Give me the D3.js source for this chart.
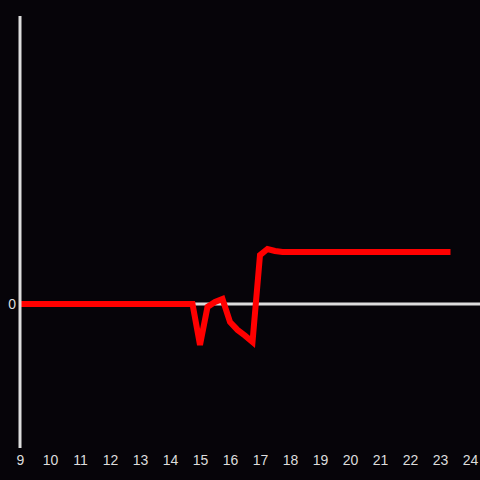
<!DOCTYPE html>
<html>
<head>
<meta charset="utf-8">
<script src="https://cdn.jsdelivr.net/npm/d3@7"></script>
<style>
  html, body { margin: 0; padding: 0; background: #060409; }
  svg { display: block; }
  .tick text { font-family: "Liberation Sans", Arial, sans-serif; font-size: 14px; fill: #ddd; }
</style>
</head>
<body>
<div id="chart"></div>
<script>
// hour of day and value
var hours = [9, 14.75, 15, 15.25, 15.5, 15.75, 16, 16.25, 16.5, 16.75, 17, 17.25, 17.5, 17.75, 23.35];
var values = [0, 0, -28.5, -2, 1.4, 3.5, -12.5, -18, -22, -26.4, 34, 38.2, 36.8, 36.1, 36.1];
var xTicks = [9, 10, 11, 12, 13, 14, 15, 16, 17, 18, 19, 20, 21, 22, 23, 24];
var yTicks = [0];

var width = 480, height = 480;

var x = d3.scaleLinear().domain([9, 24]).range([20, 470]);
var y = d3.scaleLinear().domain([-100, 200]).range([448, 16]);

var svg = d3.select("#chart").append("svg")
    .attr("width", width)
    .attr("height", height);

svg.append("rect")
    .attr("width", width)
    .attr("height", height)
    .attr("fill", "#060409");

// zero line
svg.append("line")
    .attr("x1", x(9)).attr("x2", width)
    .attr("y1", y(0)).attr("y2", y(0))
    .attr("stroke", "#ddd")
    .attr("stroke-width", 3);

var line = d3.line()
    .x(function (d, i) { return x(hours[i]); })
    .y(function (d) { return y(d); });

svg.append("path")
    .datum(values)
    .attr("d", line)
    .attr("fill", "none")
    .attr("stroke", "#ff0000")
    .attr("stroke-width", 6)
    .attr("stroke-linejoin", "miter");

// y axis line, drawn over the series
svg.append("line")
    .attr("x1", x(9)).attr("x2", x(9))
    .attr("y1", y(200)).attr("y2", y(-100))
    .attr("stroke", "#ddd")
    .attr("stroke-width", 3);

var xAxis = svg.append("g")
    .attr("transform", "translate(0," + 448 + ")")
    .call(d3.axisBottom(x).tickValues(xTicks).tickFormat(d3.format("d")).tickSize(0).tickPadding(7));
xAxis.select(".domain").remove();

var yAxis = svg.append("g")
    .attr("transform", "translate(" + x(9) + ",0)")
    .call(d3.axisLeft(y).tickValues(yTicks).tickFormat(d3.format("d")).tickSize(0).tickPadding(4));
yAxis.select(".domain").remove();
</script>
</body>
</html>
